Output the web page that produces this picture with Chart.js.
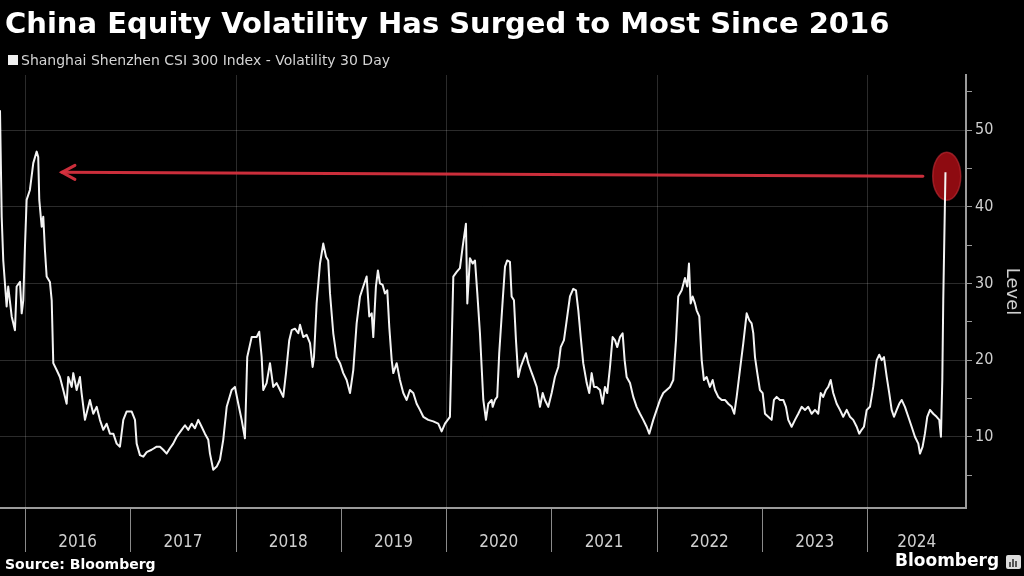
<!DOCTYPE html>
<html>
<head>
<meta charset="utf-8">
<script src="https://cdn.jsdelivr.net/npm/chart.js@4.4.1/dist/chart.umd.min.js"></script>
<style>
  html, body { margin: 0; padding: 0; background: #000; }
</style>
</head>
<body>
<canvas id="chart" width="1024" height="576"></canvas>
<script>
// CSI 300 30-day volatility (decimal years)
const dates = [
  2015.763, 2015.779, 2015.794, 2015.826, 2015.841, 2015.874, 2015.905, 2015.921, 2015.953, 2015.969, 2015.984,
  2016.000, 2016.016, 2016.047, 2016.079, 2016.111, 2016.126, 2016.136, 2016.159, 2016.174, 2016.190, 2016.206, 2016.237, 2016.254, 2016.269, 2016.301, 2016.332, 2016.364, 2016.396, 2016.411, 2016.444, 2016.459, 2016.491, 2016.522, 2016.538, 2016.570, 2016.617, 2016.649, 2016.681, 2016.712, 2016.744, 2016.776, 2016.807, 2016.839, 2016.871, 2016.902, 2016.934, 2016.966,
  2017.013, 2017.045, 2017.061, 2017.092, 2017.124, 2017.156, 2017.203, 2017.251, 2017.282, 2017.313, 2017.346, 2017.377, 2017.408, 2017.441, 2017.488, 2017.520, 2017.551, 2017.583, 2017.614, 2017.646, 2017.678, 2017.709, 2017.741, 2017.757, 2017.788, 2017.821, 2017.852, 2017.883, 2017.916, 2017.963, 2017.994,
  2018.026, 2018.058, 2018.089, 2018.111, 2018.153, 2018.200, 2018.225, 2018.248, 2018.263, 2018.295, 2018.327, 2018.358, 2018.390, 2018.422, 2018.453, 2018.479, 2018.510, 2018.533, 2018.564, 2018.596, 2018.612, 2018.643, 2018.675, 2018.707, 2018.732, 2018.745, 2018.770, 2018.802, 2018.833, 2018.859, 2018.880, 2018.897, 2018.928, 2018.960, 2018.992,
  2019.023, 2019.055, 2019.087, 2019.118, 2019.150, 2019.182, 2019.213, 2019.245, 2019.270, 2019.293, 2019.308, 2019.333, 2019.352, 2019.371, 2019.397, 2019.419, 2019.441, 2019.460, 2019.483, 2019.498, 2019.530, 2019.561, 2019.593, 2019.625, 2019.656, 2019.688, 2019.720, 2019.751, 2019.783, 2019.830, 2019.878, 2019.925, 2019.957, 2019.989,
  2020.036, 2020.068, 2020.100, 2020.131, 2020.157, 2020.188, 2020.201, 2020.226, 2020.252, 2020.274, 2020.296, 2020.321, 2020.353, 2020.378, 2020.400, 2020.432, 2020.442, 2020.464, 2020.485, 2020.504, 2020.537, 2020.559, 2020.580, 2020.606, 2020.622, 2020.644, 2020.663, 2020.685, 2020.708, 2020.732, 2020.758, 2020.780, 2020.803, 2020.827, 2020.860, 2020.891, 2020.917, 2020.938, 2020.970,
  2021.002, 2021.033, 2021.065, 2021.088, 2021.119, 2021.145, 2021.176, 2021.207, 2021.233, 2021.255, 2021.278, 2021.302, 2021.335, 2021.359, 2021.382, 2021.404, 2021.429, 2021.461, 2021.486, 2021.508, 2021.530, 2021.556, 2021.581, 2021.603, 2021.625, 2021.651, 2021.676, 2021.695, 2021.714, 2021.746, 2021.777, 2021.809, 2021.841, 2021.872, 2021.904, 2021.929, 2021.967, 2021.999,
  2022.031, 2022.062, 2022.094, 2022.126, 2022.157, 2022.183, 2022.204, 2022.237, 2022.268, 2022.290, 2022.306, 2022.322, 2022.341, 2022.363, 2022.379, 2022.404, 2022.427, 2022.448, 2022.474, 2022.505, 2022.531, 2022.553, 2022.584, 2022.617, 2022.648, 2022.679, 2022.712, 2022.736, 2022.759, 2022.790, 2022.822, 2022.854, 2022.879, 2022.901, 2022.917, 2022.933, 2022.955, 2022.980,
  2023.006, 2023.028, 2023.059, 2023.091, 2023.113, 2023.139, 2023.170, 2023.202, 2023.227, 2023.249, 2023.281, 2023.313, 2023.344, 2023.376, 2023.408, 2023.439, 2023.471, 2023.503, 2023.534, 2023.557, 2023.581, 2023.607, 2023.629, 2023.652, 2023.676, 2023.709, 2023.740, 2023.771, 2023.804, 2023.835, 2023.866, 2023.899, 2023.923, 2023.946, 2023.968, 2023.994,
  2024.025, 2024.056, 2024.089, 2024.113, 2024.136, 2024.158, 2024.184, 2024.208, 2024.231, 2024.253, 2024.279, 2024.303, 2024.326, 2024.357, 2024.389, 2024.421, 2024.452, 2024.484, 2024.500, 2024.525, 2024.547, 2024.569, 2024.595, 2024.626, 2024.658, 2024.683, 2024.699, 2024.712, 2024.721, 2024.742
]

const vol = [
  52.6, 38.7, 33.0, 27.0, 29.6, 25.7, 23.9, 29.6, 30.2, 26.1, 27.8,
  34.8, 40.9, 42.2, 45.7, 47.2, 46.5, 40.9, 37.4, 38.7, 34.3, 30.9, 30.2, 27.8, 19.6, 18.7, 17.8, 16.1, 14.3, 17.8, 16.5, 18.3, 16.1, 17.8, 15.7, 12.2, 14.8, 13.0, 13.9, 12.2, 10.9, 11.7, 10.4, 10.4, 9.1, 8.7, 12.2, 13.3,
  13.3, 12.2, 9.1, 7.6, 7.4, 8.0, 8.3, 8.7, 8.7, 8.3, 7.8, 8.5, 9.1, 10.0, 10.9, 11.5, 10.9, 11.7, 11.1, 12.2, 11.3, 10.4, 9.6, 7.8, 5.7, 6.1, 7.0, 9.6, 13.9, 16.1, 16.5,
  14.3, 12.2, 9.8, 20.4, 23.0, 23.0, 23.7, 20.4, 16.1, 17.0, 19.6, 16.5, 17.0, 16.1, 15.2, 18.3, 22.6, 23.9, 24.1, 23.5, 24.6, 23.0, 23.3, 22.2, 19.1, 20.4, 27.4, 32.6, 35.2, 33.5, 33.0, 28.7, 23.5, 20.4, 19.6,
  18.3, 17.4, 15.7, 18.7, 24.8, 28.3, 29.6, 30.9, 25.7, 26.1, 23.0, 29.6, 31.7, 30.0, 29.8, 28.7, 29.1, 24.3, 20.0, 18.3, 19.6, 17.4, 15.7, 14.8, 16.1, 15.7, 14.3, 13.5, 12.6, 12.2, 12.0, 11.7, 10.7, 11.7,
  12.6, 30.9, 31.5, 32.0, 34.8, 37.8, 27.4, 33.3, 32.6, 33.0, 28.7, 23.5, 14.8, 12.2, 14.3, 14.8, 13.9, 14.8, 15.2, 20.9, 27.8, 32.2, 33.0, 32.8, 28.3, 27.8, 22.6, 17.8, 19.1, 20.0, 20.9, 19.6, 18.7, 17.8, 16.5, 13.9, 15.7, 14.8, 13.9,
  15.7, 17.8, 19.1, 21.7, 22.6, 25.2, 28.3, 29.3, 29.1, 26.5, 23.0, 19.6, 17.0, 15.7, 18.3, 16.5, 16.5, 16.1, 14.3, 16.5, 15.7, 19.1, 23.0, 22.6, 21.7, 23.0, 23.5, 20.0, 17.8, 17.0, 15.2, 13.9, 13.0, 12.2, 11.3, 10.4, 12.2, 13.5,
  14.8, 15.7, 16.1, 16.5, 17.4, 22.6, 28.3, 29.1, 30.7, 29.6, 32.6, 27.4, 28.3, 27.4, 26.5, 25.7, 20.0, 17.4, 17.8, 16.5, 17.4, 16.1, 15.2, 14.8, 14.8, 14.3, 13.9, 13.0, 15.2, 18.7, 22.2, 26.1, 25.2, 24.8, 23.5, 20.4, 18.3, 16.1,
  15.7, 13.0, 12.6, 12.2, 14.8, 15.2, 14.8, 14.8, 13.9, 12.2, 11.3, 12.2, 13.0, 13.9, 13.5, 13.9, 13.0, 13.5, 13.0, 15.7, 15.2, 16.1, 16.5, 17.4, 15.7, 14.3, 13.5, 12.6, 13.5, 12.6, 12.2, 11.3, 10.4, 10.9, 11.3, 13.5,
  13.9, 16.5, 20.0, 20.7, 20.0, 20.4, 17.8, 15.7, 13.5, 12.6, 13.5, 14.3, 14.8, 13.9, 12.6, 11.3, 10.0, 9.1, 7.8, 8.7, 10.4, 12.6, 13.5, 13.0, 12.6, 12.2, 10.0, 17.4, 27.8, 44.5
]

const yearStarts = [2016, 2017, 2018, 2019, 2020, 2021, 2022, 2023, 2024]
const yearLabels = ['2016', '2017', '2018', '2019', '2020', '2021', '2022', '2023', '2024']
const levelTicks = [5, 10, 15, 20, 25, 30, 35, 40, 45, 50, 55]

const xMin = 2015.763, xMax = 2024.937
const yMin = 0.7, yMax = 57.2

// annotation: arrow back to the 2016 high, ring round the latest reading
const arrowFrom = { x: 2024.528, y: 44.0 }
const arrowTo = { x: 2016.351, y: 44.5 }
const ringAt = { x: 2024.754, y: 44.0 }

const COND = "'DejaVu Sans Condensed', 'DejaVu Sans', sans-serif"
const SANS = "'DejaVu Sans', sans-serif"
const GRID = 'rgba(255,255,255,0.17)'
const AXIS = '#9b9b9b'
const LABEL = '#cfcfcf'

// tick labels sit in the middle of each year (last one in the visible part)
const labelPos = yearStarts.map(y => (y + Math.min(y + 1, xMax)) / 2)

const decor = {
  id: 'decor',
  beforeDraw(chart) {
    const { ctx } = chart
    ctx.save()
    ctx.fillStyle = '#000'
    ctx.fillRect(0, 0, chart.width, chart.height)
    ctx.restore()
  },
  beforeDatasetsDraw(chart) {
    const { ctx, chartArea: a, scales: { x, y } } = chart
    ctx.save()
    ctx.lineWidth = 1
    yearStarts.forEach(yr => {
      const px = Math.round(x.getPixelForValue(yr)) + 0.5
      if (yr % 2 === 0) {
        ctx.strokeStyle = GRID
        ctx.beginPath(); ctx.moveTo(px, a.top); ctx.lineTo(px, a.bottom); ctx.stroke()
      }
      ctx.strokeStyle = '#8a8a8a'
      ctx.beginPath(); ctx.moveTo(px, a.bottom + 1); ctx.lineTo(px, a.bottom + 44); ctx.stroke()
    })

    // red ring
    const cx = x.getPixelForValue(ringAt.x), cy = y.getPixelForValue(ringAt.y)
    ctx.fillStyle = 'rgba(150,12,18,0.95)'
    ctx.strokeStyle = 'rgba(200,45,55,0.6)'
    ctx.lineWidth = 1.5
    ctx.beginPath(); ctx.ellipse(cx, cy, 14, 24, 0, 0, Math.PI * 2); ctx.fill(); ctx.stroke()

    // arrow
    const x1 = x.getPixelForValue(arrowFrom.x), y1 = y.getPixelForValue(arrowFrom.y)
    const x2 = x.getPixelForValue(arrowTo.x), y2 = y.getPixelForValue(arrowTo.y)
    ctx.strokeStyle = 'rgba(214,48,62,0.95)'
    ctx.lineWidth = 3
    ctx.lineCap = 'round'
    ctx.beginPath(); ctx.moveTo(x1, y1); ctx.lineTo(x2, y2); ctx.stroke()
    ctx.beginPath()
    ctx.moveTo(x2 + 13, y2 - 7); ctx.lineTo(x2, y2); ctx.lineTo(x2 + 13, y2 + 7)
    ctx.stroke()
    ctx.restore()
  },
  afterDraw(chart) {
    const { ctx } = chart
    ctx.save()
    ctx.textBaseline = 'alphabetic'
    ctx.textAlign = 'left'

    ctx.fillStyle = '#ffffff'
    ctx.font = "bold 29px " + SANS
    ctx.fillText('China Equity Volatility Has Surged to Most Since 2016', 5, 33)

    ctx.fillStyle = '#f0f0f0'
    ctx.fillRect(8, 55, 10, 10)
    ctx.fillStyle = '#d4d4d4'
    ctx.font = "14px " + SANS
    ctx.fillText('Shanghai Shenzhen CSI 300 Index - Volatility 30 Day', 21, 65)

    ctx.fillStyle = '#ffffff'
    ctx.font = "bold 14px " + SANS
    ctx.fillText('Source: Bloomberg', 5, 569)

    ctx.font = "bold 17px " + SANS
    ctx.fillText('Bloomberg', 895, 566)

    // small terminal icon
    ctx.fillStyle = '#dcdcdc'
    ctx.beginPath(); ctx.roundRect(1006, 555, 15, 14, 2); ctx.fill()
    ctx.fillStyle = '#555'
    ctx.fillRect(1009, 562, 2, 5); ctx.fillRect(1012, 559, 2, 8); ctx.fillRect(1015, 561, 2, 6)
    ctx.restore()
  }
}

new Chart(document.getElementById('chart'), {
  type: 'line',
  data: {
    datasets: [{
      data: dates.map((d, i) => ({ x: d, y: vol[i] })),
      borderColor: '#f4f4f4',
      borderWidth: 2,
      pointRadius: 0,
      tension: 0,
      borderJoinStyle: 'round'
    }]
  },
  options: {
    responsive: false,
    animation: false,
    layout: { padding: { top: 75, right: 0, bottom: 23, left: 0 } },
    plugins: {
      legend: { display: false },
      title: { display: false },
      tooltip: { enabled: false }
    },
    scales: {
      x: {
        type: 'linear',
        position: 'bottom',
        min: xMin,
        max: xMax,
        afterBuildTicks: s => { s.ticks = labelPos.map(v => ({ value: v })) },
        afterFit: s => { s.height = 45 },
        grid: { display: false, drawTicks: false },
        border: { display: true, color: AXIS, width: 2 },
        ticks: {
          color: LABEL,
          font: { family: COND, size: 17 },
          padding: 24,
          maxRotation: 0,
          autoSkip: false,
          callback: (v, i) => yearLabels[i]
        }
      },
      y: {
        position: 'right',
        min: yMin,
        max: yMax,
        afterBuildTicks: s => { s.ticks = levelTicks.map(v => ({ value: v })) },
        afterFit: s => { s.width = 58 },
        grid: {
          color: c => (c.tick && c.tick.value % 10 === 0) ? GRID : 'rgba(0,0,0,0)',
          tickColor: AXIS,
          tickLength: 6,
          lineWidth: 1
        },
        border: { display: true, color: AXIS, width: 2 },
        ticks: {
          color: LABEL,
          font: { family: COND, size: 16 },
          padding: 3,
          callback: v => (v % 10 === 0 ? v : '')
        },
        title: {
          display: true,
          text: 'Level',
          color: LABEL,
          font: { family: SANS, size: 18 },
          padding: { top: 2, bottom: 0 }
        }
      }
    }
  },
  plugins: [decor]
})
</script>
</body>
</html>
